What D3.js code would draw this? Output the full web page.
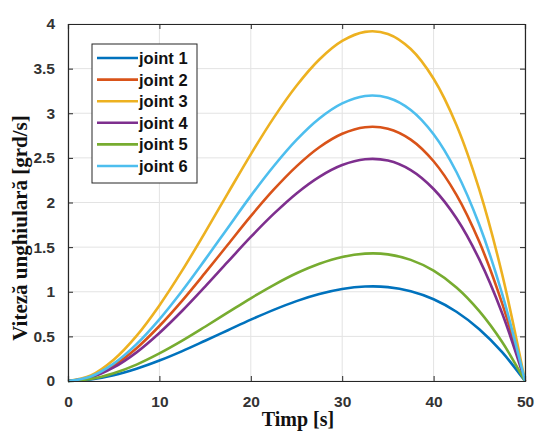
<!DOCTYPE html>
<html>
<head>
<meta charset="utf-8">
<script src="https://cdn.jsdelivr.net/npm/d3@7"></script>
<style>
  body { margin: 0; background: #fff; }
</style>
</head>
<body>
<svg id="chart"></svg>
<script>
var width = 536;
var height = 431;

// time samples (s)
var time = [0, 2.5, 5, 7.5, 10, 12.5, 15, 17.5, 20, 22.5, 25, 27.5, 30, 32.5, 35, 37.5, 40, 42.5, 45, 47.5, 50];

// angular speed (grd/s)
var joint1 = [0, .017, .064, .137, .229, .335, .451, .569, .687, .797, .895, .974, 1.03, 1.058, 1.052, 1.006, .916, .776, .580, .323, 0];
var joint2 = [0, .046, .174, .368, .616, .901, 1.211, 1.530, 1.847, 2.143, 2.405, 2.619, 2.770, 2.844, 2.827, 2.705, 2.462, 2.086, 1.559, .869, 0];
var joint3 = [0, .063, .239, .506, .847, 1.239, 1.666, 2.105, 2.540, 2.948, 3.308, 3.602, 3.810, 3.912, 3.889, 3.720, 3.387, 2.869, 2.144, 1.196, 0];
var joint4 = [0, .040, .152, .321, .538, .787, 1.058, 1.337, 1.614, 1.872, 2.102, 2.288, 2.420, 2.485, 2.470, 2.363, 2.151, 1.823, 1.362, .759, 0];
var joint5 = [0, .023, .087, .184, .309, .452, .608, .768, .927, 1.075, 1.207, 1.314, 1.390, 1.427, 1.419, 1.357, 1.236, 1.047, .782, .436, 0];
var joint6 = [0, .051, .195, .413, .691, 1.011, 1.360, 1.718, 2.074, 2.406, 2.701, 2.941, 3.110, 3.194, 3.174, 3.037, 2.765, 2.342, 1.750, .976, 0];

var seriesNames = ['joint 1', 'joint 2', 'joint 3', 'joint 4', 'joint 5', 'joint 6'];
var seriesValues = [joint1, joint2, joint3, joint4, joint5, joint6];
var colors = ['#0072BD', '#D95319', '#EDB120', '#7E2F8E', '#77AC30', '#4DBEEE'];

var xTicks = [0, 10, 20, 30, 40, 50];
var yTicks = [0, 0.5, 1, 1.5, 2, 2.5, 3, 3.5, 4];

var margin = {left: 68, top: 24, right: 11, bottom: 50};
var w = width - margin.left - margin.right;
var h = height - margin.top - margin.bottom;

var svg = d3.select('#chart')
  .attr('width', width)
  .attr('height', height);

var g = svg.append('g')
  .attr('transform', 'translate(' + margin.left + ',' + margin.top + ')');

var x = d3.scaleLinear().domain([0, 50]).range([0, w]);
var y = d3.scaleLinear().domain([0, 4]).range([h, 0]);

// grid
g.append('g')
  .selectAll('line.vx')
  .data(xTicks)
  .enter().append('line')
  .attr('x1', function(d) { return x(d); })
  .attr('x2', function(d) { return x(d); })
  .attr('y1', 0).attr('y2', h)
  .attr('stroke', '#e3e3e3').attr('stroke-width', 1);

g.append('g')
  .selectAll('line.hy')
  .data(yTicks)
  .enter().append('line')
  .attr('y1', function(d) { return y(d); })
  .attr('y2', function(d) { return y(d); })
  .attr('x1', 0).attr('x2', w)
  .attr('stroke', '#e3e3e3').attr('stroke-width', 1);

// lines
var line = d3.line()
  .x(function(d, i) { return x(time[i]); })
  .y(function(d) { return y(d); })
  .curve(d3.curveCatmullRom.alpha(0.5));

seriesValues.forEach(function(vals, k) {
  g.append('path')
    .datum(vals)
    .attr('d', line)
    .attr('fill', 'none')
    .attr('stroke', colors[k])
    .attr('stroke-width', 2.6)
    .attr('stroke-linejoin', 'round');
});

// axes
var tickFont = 'bold 15.5px "Liberation Sans", Arial, sans-serif';

var xAxis = g.append('g')
  .attr('transform', 'translate(0,' + h + ')')
  .call(d3.axisBottom(x).tickValues(xTicks).tickSize(-5).tickPadding(15));
var yAxis = g.append('g')
  .call(d3.axisLeft(y).tickValues(yTicks).tickSize(-5).tickPadding(13)
    .tickFormat(d3.format('')));
var xAxisTop = g.append('g')
  .call(d3.axisTop(x).tickValues(xTicks).tickSize(-5).tickFormat(''));
var yAxisRight = g.append('g')
  .attr('transform', 'translate(' + w + ',0)')
  .call(d3.axisRight(y).tickValues(yTicks).tickSize(-5).tickFormat(''));

[xAxis, yAxis, xAxisTop, yAxisRight].forEach(function(a) {
  a.select('.domain').attr('stroke', '#262626').attr('stroke-width', 1.2);
  a.selectAll('.tick line').attr('stroke', '#262626');
  a.selectAll('text')
    .style('font', tickFont)
    .attr('fill', '#333');
});

// axis labels
svg.append('text')
  .attr('x', 298)
  .attr('y', 426)
  .attr('text-anchor', 'middle')
  .style('font', 'bold 20px "Liberation Serif", "Times New Roman", serif')
  .attr('fill', '#111')
  .text('Timp [s]');

svg.append('text')
  .attr('transform', 'translate(27,228) rotate(-90)')
  .attr('text-anchor', 'middle')
  .style('font', 'bold 21px "Liberation Serif", "Times New Roman", serif')
  .attr('fill', '#111')
  .text('Viteză unghiulară [grd/s]');

// legend
var legend = svg.append('g').attr('transform', 'translate(92,44)');
legend.append('rect')
  .attr('width', 105).attr('height', 139)
  .attr('fill', '#fff')
  .attr('stroke', '#262626').attr('stroke-width', 1);

seriesNames.forEach(function(name, k) {
  var yy = 14 + k * 21.6;
  legend.append('line')
    .attr('x1', 5).attr('x2', 46)
    .attr('y1', yy).attr('y2', yy)
    .attr('stroke', colors[k]).attr('stroke-width', 2.6);
  legend.append('text')
    .attr('x', 47).attr('y', yy + 6)
    .style('font', 'bold 16.5px "Liberation Sans", Arial, sans-serif')
    .attr('fill', '#111')
    .text(name);
});
</script>
</body>
</html>
